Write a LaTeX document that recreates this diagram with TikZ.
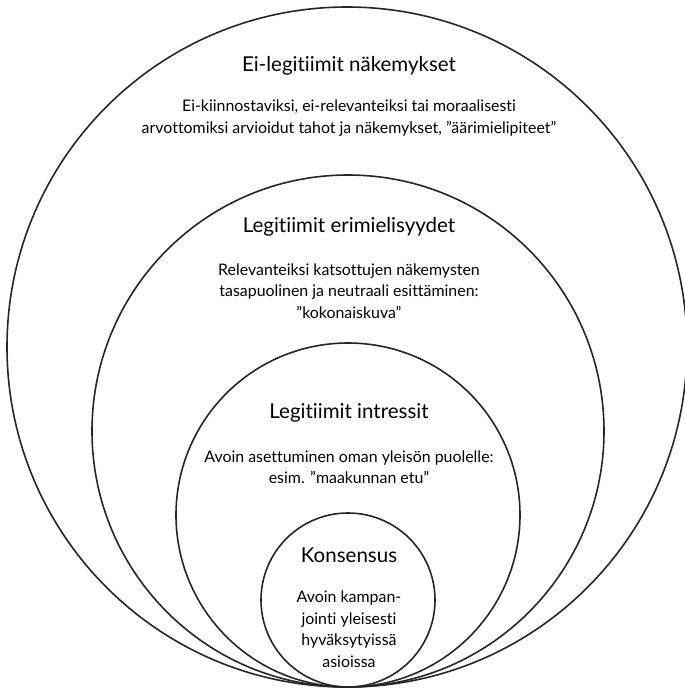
\documentclass[tikz,border=0pt]{standalone}
\usepackage{fontspec}
\setmainfont{Lato}[Ligatures=NoCommon]
\usetikzlibrary{positioning}

\begin{document}
\begin{tikzpicture}[x=1pt,y=1pt,
  ring/.style={draw=black!85,line width=1.6pt},
  title node/.style={inner sep=0pt,font=\fontsize{20.5}{24}\selectfont},
  text node/.style={inner sep=0pt,align=center,font=\fontsize{15.9}{21.5}\selectfont}]
  \useasboundingbox (0,0) rectangle (685,-689);
  % nested circles, all touching at the bottom
  \draw[ring] (347,-347) circle (340pt);
  \draw[ring] (348,-431) circle (256pt);
  \draw[ring] (348,-515) circle (172pt);
  \draw[ring] (348,-600) circle (87pt);
  % outer ring
  \node[title node] (t1) at (349,-66) {Ei-legitiimit näkemykset};
  \node[text node] (d1) at (349,-118) {Ei-kiinnostaviksi, ei-relevanteiksi tai moraalisesti\\
    arvottomiksi arvioidut tahot ja näkemykset, ”äärimielipiteet”};
  % second ring
  \node[title node] (t2) at (349,-227) {Legitiimit erimielisyydet};
  \node[text node] (d2) at (349,-291) {Relevanteiksi katsottujen näkemysten\\
    tasapuolinen ja neutraali esittäminen:\\ ”kokonaiskuva”};
  % third ring
  \node[title node] (t3) at (349,-413) {Legitiimit intressit};
  \node[text node] (d3) at (349,-467) {Avoin asettuminen oman yleisön puolelle:\\
    esim. ”maakunnan etu”};
  % inner ring
  \node[title node] (t4) at (349,-555) {Konsensus};
  \node[text node] (d4) at (349,-629) {Avoin kampan-\\ jointi yleisesti\\ hyväksytyissä\\ asioissa};
\end{tikzpicture}
\end{document}
